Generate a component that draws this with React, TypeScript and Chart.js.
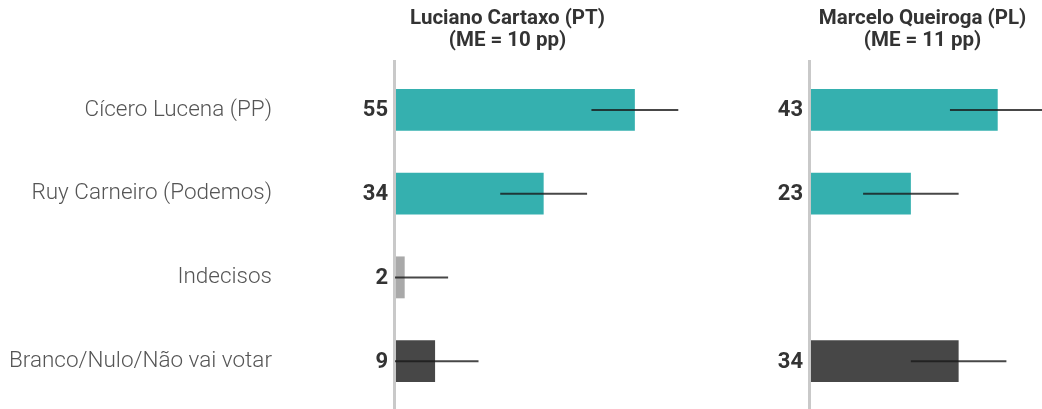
import React, { useEffect, useRef } from "react";
import { Chart, registerables } from "chart.js";

Chart.register(...registerables);

const categories = [
  "Cícero Lucena (PP)",
  "Ruy Carneiro (Podemos)",
  "Indecisos",
  "Branco/Nulo/Não vai votar",
];
const panelTitles = [
  ["Luciano Cartaxo (PT)", "(ME = 10 pp)"],
  ["Marcelo Queiroga (PL)", "(ME = 11 pp)"],
];
const cartaxoValues: (number | null)[] = [55, 34, 2, 9];
const queirogaValues: (number | null)[] = [43, 23, null, 34];
const marginsOfError = [10, 11];
const barColors = ["#35b0af", "#35b0af", "#a9a9a9", "#474747"];
const xMaxima = [70, 53.2];

const FONT = "Roboto, 'Noto Sans', sans-serif";

function makePlugin(titleLines: string[], me: number) {
  return {
    id: "panelDecor",
    beforeDatasetsDraw(chart: any) {
      const { ctx, chartArea } = chart;
      ctx.save();
      ctx.strokeStyle = "#c9c9c9";
      ctx.lineWidth = 3;
      ctx.beginPath();
      ctx.moveTo(chartArea.left - 1.5, 60);
      ctx.lineTo(chartArea.left - 1.5, chart.height);
      ctx.stroke();
      ctx.restore();
    },
    afterDatasetsDraw(chart: any) {
      const { ctx, chartArea } = chart;
      const xs = chart.scales.x;
      const meta = chart.getDatasetMeta(0);
      const data = chart.data.datasets[0].data as (number | null)[];
      ctx.save();
      // error bars
      ctx.strokeStyle = "rgba(25,25,25,0.8)";
      ctx.lineWidth = 2;
      data.forEach((v, i) => {
        if (v === null || v === undefined) return;
        const y = meta.data[i].y;
        const x0 = Math.max(chartArea.left - 1, xs.getPixelForValue(v - me));
        const x1 = xs.getPixelForValue(v + me);
        ctx.beginPath();
        ctx.moveTo(x0, y);
        ctx.lineTo(x1, y);
        ctx.stroke();
      });
      // value labels
      ctx.fillStyle = "#333";
      ctx.font = `bold 22px ${FONT}`;
      ctx.textAlign = "right";
      ctx.textBaseline = "middle";
      data.forEach((v, i) => {
        if (v === null || v === undefined) return;
        const y = meta.data[i].y;
        ctx.fillText(String(v), chartArea.left - 8, y + 1);
      });
      // title
      ctx.font = `bold 20.5px ${FONT}`;
      ctx.textAlign = "center";
      ctx.textBaseline = "alphabetic";
      const cx = chartArea.left + 111.5;
      ctx.fillText(titleLines[0], cx, 24);
      ctx.fillText(titleLines[1], cx, 46);
      ctx.restore();
    },
  };
}

function buildConfig(values: (number | null)[], panel: number, showLabels: boolean): any {
  const yScale: any = {
    display: showLabels,
    grid: { display: false, drawTicks: true, tickLength: 120 },
    border: { display: false },
    ticks: {
      padding: 4,
      color: "#555",
      font: { family: FONT, size: 22.5, weight: "300" },
    },
  };
  if (showLabels) {
    yScale.afterFit = (scale: any) => {
      scale.width = 396;
      scale.paddingTop = 0;
      scale.paddingBottom = 0;
    };
  }
  return {
    type: "bar",
    data: {
      labels: categories,
      datasets: [
        {
          data: values,
          backgroundColor: barColors,
          borderWidth: 0,
          barPercentage: 0.5,
          categoryPercentage: 1,
        },
      ],
    },
    options: {
      indexAxis: "y",
      animation: false,
      responsive: false,
      maintainAspectRatio: false,
      layout: {
        autoPadding: false,
        padding: { top: 68, bottom: 6, left: showLabels ? 0 : 111, right: 0 },
      },
      plugins: { legend: { display: false }, tooltip: { enabled: false }, title: { display: false } },
      scales: {
        x: {
          display: false,
          min: 0,
          max: xMaxima[panel],
        },
        y: yScale,
      },
    },
    plugins: [makePlugin(panelTitles[panel], marginsOfError[panel])],
  };
}

export default function App() {
  const ref1 = useRef<HTMLCanvasElement>(null);
  const ref2 = useRef<HTMLCanvasElement>(null);

  useEffect(() => {
    const c1 = new Chart(ref1.current!, buildConfig(cartaxoValues, 0, true));
    const c2 = new Chart(ref2.current!, buildConfig(queirogaValues, 1, false));
    return () => {
      c1.destroy();
      c2.destroy();
    };
  }, []);

  return (
    <div
      style={{
        position: "fixed",
        left: 0,
        top: 0,
        width: 1042,
        height: 409,
        background: "#fff",
        overflow: "hidden",
      }}
    >
      <canvas ref={ref1} width={700} height={409} style={{ position: "absolute", left: 0, top: 0 }} />
      <canvas ref={ref2} width={342} height={409} style={{ position: "absolute", left: 700, top: 0 }} />
    </div>
  );
}
